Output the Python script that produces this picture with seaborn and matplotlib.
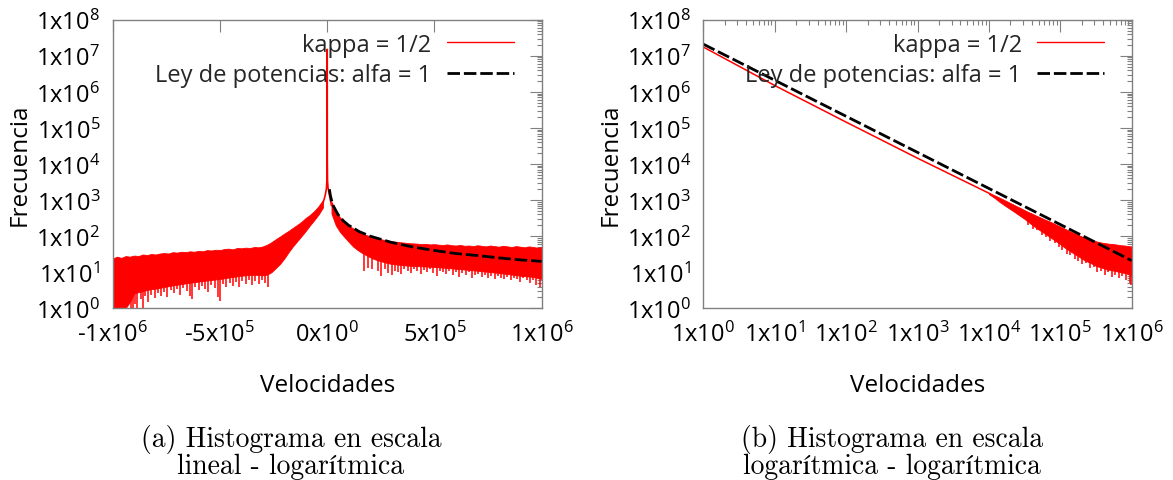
import numpy as np
import pandas as pd
import matplotlib
matplotlib.use('Agg')
import matplotlib.pyplot as plt
from matplotlib.lines import Line2D
from matplotlib.ticker import LogLocator, NullFormatter, NullLocator
import seaborn as sns

# ---------------- data ----------------
# (a) linear x: velocities in units of 1e5
vel_neg_e5 = [-10.0, -9.8, -9.6, -9.4, -9.2, -9.0, -8.8, -8.6, -8.4, -8.2,
              -8.0, -7.8, -7.6, -7.4, -7.2, -7.0, -6.8, -6.6, -6.4, -6.2,
              -6.0, -5.8, -5.6, -5.4, -5.2, -5.0, -4.8, -4.6, -4.4, -4.2,
              -4.0, -3.8, -3.6, -3.4, -3.2, -3.0, -2.8, -2.6, -2.4, -2.2,
              -2.0, -1.8, -1.6, -1.4, -1.2, -1.0, -0.8, -0.6, -0.4, -0.2]
freq_neg_upper = [24, 27, 25, 28, 27, 29, 28, 31, 30, 32,
                  31, 33, 34, 33, 36, 35, 37, 36, 38, 37,
                  39, 38, 41, 40, 42, 41, 44, 45, 43, 47,
                  46, 48, 47, 50, 49, 52, 58, 68, 82, 98,
                  118, 140, 170, 205, 250, 320, 390, 500, 680, 1000]
freq_neg_lower = [1, 1, 1, 1, 1.5, 2.6, 2.8, 3.0, 3.2, 3.4,
                  3.5, 3.7, 3.9, 4.1, 4.3, 4.5, 4.7, 4.9, 5.1, 5.3,
                  5.5, 5.7, 5.9, 6.1, 6.3, 6.5, 6.8, 7.1, 7.4, 7.7,
                  8.0, 8.2, 8.4, 8.5, 8.4, 8.2, 8.6, 10, 13, 17,
                  24, 36, 52, 72, 100, 140, 200, 280, 400, 620]
spike_neg_e5 = [-9.15, -9.05, -8.95, -8.85, -8.7, -8.6, -8.5, -8.35, -8.2, -8.05,
                -7.9, -7.75, -7.6, -7.45, -7.3, -7.15, -7.0, -6.85, -6.7, -6.55,
                -6.4, -6.3, -6.15, -6.0, -5.85, -5.7, -5.55, -5.4, -5.25, -5.1,
                -5.0, -4.85, -4.7, -4.55, -4.4, -4.25, -4.1, -3.95, -3.8, -3.65,
                -3.5, -3.35, -3.2, -3.05, -2.9, -2.75]
spike_neg_bottom = [1, 1, 1.3, 1, 1.8, 1, 2.2, 1.5, 2.4, 1.9,
                    2.6, 2.2, 2.9, 2.0, 3.2, 2.6, 3.4, 2.4, 3.6, 3.0,
                    2.2, 1.8, 3.8, 3.2, 4.2, 3.4, 2.8, 4.4, 3.6, 2.0,
                    1.6, 4.6, 3.8, 5.0, 4.2, 5.4, 4.0, 5.8, 4.6, 6.0,
                    4.4, 5.6, 4.8, 6.2, 5.0, 3.8]

vel_pos_e5 = [0.2, 0.4, 0.6, 0.8, 1.0, 1.2, 1.4, 1.6, 1.8, 2.0,
              2.2, 2.4, 2.6, 2.8, 3.0, 3.2, 3.4, 3.6, 3.8, 4.0,
              4.2, 4.4, 4.6, 4.8, 5.0, 5.2, 5.4, 5.6, 5.8, 6.0,
              6.2, 6.4, 6.6, 6.8, 7.0, 7.2, 7.4, 7.6, 7.8, 8.0,
              8.2, 8.4, 8.6, 8.8, 9.0, 9.2, 9.4, 9.6, 9.8, 10.0]
freq_pos_upper = [900, 500, 330, 250, 200, 165, 140, 120, 108, 100,
                  92, 85, 80, 76, 72, 70, 68, 66, 64, 63,
                  62, 60, 61, 59, 60, 58, 57, 59, 56, 55,
                  57, 54, 55, 53, 56, 54, 52, 55, 53, 51,
                  54, 52, 50, 53, 51, 49, 52, 50, 48, 50]
freq_pos_lower = [420, 200, 130, 95, 70, 52, 42, 35, 30, 26,
                  23, 21, 19.5, 18, 17, 16.5, 16, 15.5, 15.2, 15,
                  14.8, 14.6, 14.4, 14.2, 14, 13.7, 13.4, 13.1, 12.8, 12.5,
                  12.2, 11.9, 11.6, 11.3, 11, 10.7, 10.4, 10.1, 9.8, 9.5,
                  9.2, 8.9, 8.6, 8.3, 8.0, 7.8, 7.6, 7.4, 7.0, 6.5]
spike_pos_e5 = [1.7, 1.9, 2.1, 2.35, 2.5, 2.7, 2.85, 3.0, 3.15, 3.3,
                3.45, 3.6, 3.75, 3.9, 4.05, 4.2, 4.35, 4.5, 4.65, 4.8,
                4.95, 5.1, 5.25, 5.4, 5.55, 5.7, 5.85, 6.0, 6.15, 6.3,
                6.45, 6.6, 6.75, 6.9, 7.05, 7.2, 7.35, 7.5, 7.65, 7.8,
                7.95, 8.1, 8.25, 8.4, 8.55, 8.7, 8.85, 9.0, 9.15, 9.3,
                9.45, 9.6, 9.75, 9.9]
spike_pos_bottom = [11, 13, 12, 11, 8, 12, 9.5, 8.5, 11, 10,
                    9, 12, 10.5, 9.5, 12, 10.5, 9, 11.5, 10, 12,
                    9.5, 8, 11, 10, 9, 10.5, 8.5, 10, 7.5, 9.5,
                    8.5, 10, 7, 8.5, 9, 7.5, 8.5, 7, 8, 6.5,
                    8, 7, 6.5, 7.5, 6, 7, 6.5, 5.5, 7, 6,
                    5, 6, 4.5, 3.8]

vel_center_e5 = [-0.2, -0.1, -0.04, -0.015, -0.005, 0.0, 0.005, 0.015, 0.04, 0.1, 0.2]
freq_center = [800, 1300, 2000, 3500, 15000, 1.5e7, 15000, 3500, 2200, 1400, 700]

vel_fit_a_e5 = [0.1, 0.15, 0.2, 0.3, 0.5, 0.75, 1.0, 1.5, 2.0, 3.0, 4.0, 5.0, 6.0, 7.0, 8.0, 9.0, 10.0]
freq_fit_a = [2000, 1333, 1000, 667, 400, 267, 200, 133, 100, 67, 50, 40, 33, 29, 25, 22, 20]

# (b) log-log
vel_line_b = [1, 10, 100, 1000, 10000]
freq_line_b = [1.75e7, 1.5e6, 1.45e5, 1.45e4, 1.55e3]
vel_band_b_exp = [4.00, 4.05, 4.10, 4.15, 4.20, 4.25, 4.30, 4.35, 4.40, 4.45,
                  4.50, 4.55, 4.60, 4.65, 4.70, 4.75, 4.80, 4.85, 4.90, 4.95,
                  5.00, 5.05, 5.10, 5.15, 5.20, 5.25, 5.30, 5.35, 5.40, 5.45,
                  5.50, 5.55, 5.60, 5.65, 5.70, 5.75, 5.80, 5.85, 5.90, 5.95, 6.00]
freq_band_b_upper = [1620, 1440, 1300, 1160, 1040, 930, 830, 740, 660, 590,
                     525, 470, 425, 380, 345, 310, 280, 255, 230, 205,
                     185, 165, 148, 132, 120, 108, 98, 90, 82, 77,
                     72, 68, 65, 63, 61, 60, 58, 56, 55, 53, 52]
freq_band_b_lower = [1460, 1260, 1070, 890, 760, 650, 560, 480, 410, 350,
                     300, 250, 210, 178, 152, 130, 112, 96, 82, 70,
                     60, 50, 43, 37, 32, 28, 24, 21, 19, 17,
                     15, 14, 13, 12, 11.5, 11, 10.5, 10, 9.5, 9, 8]
spike_b_exp = [4.55, 4.62, 4.68, 4.75, 4.80, 4.86, 4.92, 4.98, 5.03, 5.09,
               5.14, 5.20, 5.25, 5.31, 5.36, 5.42, 5.47, 5.52, 5.57, 5.62,
               5.67, 5.72, 5.77, 5.82, 5.87, 5.92, 5.97, 5.995]
spike_b_bottom = [200, 160, 150, 110, 95, 75, 65, 50, 42, 32,
                  30, 24, 20, 17, 18, 13, 14, 10, 11, 8.5,
                  10, 7.5, 8.5, 7, 8, 6, 5, 4.5]
vel_fit_b = [1, 10, 100, 1000, 10000, 100000, 1000000]
freq_fit_b = [2.1e7, 2.1e6, 2.1e5, 2.1e4, 2.1e3, 210, 21]

# ticks and texts
y_ticks = [1, 10, 100, 1e3, 1e4, 1e5, 1e6, 1e7, 1e8]
y_tick_labels = ['1x10$^{0}$', '1x10$^{1}$', '1x10$^{2}$', '1x10$^{3}$', '1x10$^{4}$',
                 '1x10$^{5}$', '1x10$^{6}$', '1x10$^{7}$', '1x10$^{8}$']
xa_ticks = [-1e6, -5e5, 0, 5e5, 1e6]
xa_tick_labels = ['-1x10$^{6}$', '-5x10$^{5}$', '0x10$^{0}$', '5x10$^{5}$', '1x10$^{6}$']
xb_ticks = [1, 10, 100, 1e3, 1e4, 1e5, 1e6]
xb_tick_labels = ['1x10$^{0}$', '1x10$^{1}$', '1x10$^{2}$', '1x10$^{3}$', '1x10$^{4}$',
                  '1x10$^{5}$', '1x10$^{6}$']
legend_labels = ['kappa = 1/2', 'Ley de potencias: alfa = 1']
caption_a = ['(a) Histograma en escala', 'lineal - logarítmica']
caption_b = ['(b) Histograma en escala', 'logarítmica - logarítmica']

# ---------------- style ----------------
sns.set_theme(style='white')
plt.rcParams['font.family'] = ['Open Sans', 'DejaVu Sans']
plt.rcParams['mathtext.fontset'] = 'custom'
plt.rcParams['mathtext.rm'] = 'Open Sans'
plt.rcParams['mathtext.it'] = 'Open Sans'
plt.rcParams['mathtext.default'] = 'regular'

RED = '#ff0000'
GRAY = '#808080'
FS = 17
W, H = 1173, 481

fig = plt.figure(figsize=(W / 100, H / 100), dpi=100)
fig.patch.set_facecolor('white')
axA = fig.add_axes([112.7 / W, 1 - 309.3 / H, 429 / W, 288.6 / H])
axB = fig.add_axes([703.3 / W, 1 - 309.3 / H, 428.4 / W, 288.6 / H])


def style(ax):
    ax.set_facecolor('white')
    for s in ax.spines.values():
        s.set_visible(True)
        s.set_color(GRAY)
        s.set_linewidth(1.0)
        s.set_zorder(5)
    ax.grid(False)
    ax.tick_params(which='both', direction='in', top=True, right=True,
                   color=GRAY, width=0.8, labelsize=FS, labelcolor='black')
    ax.tick_params(which='major', length=8.6)
    ax.tick_params(which='minor', length=3.8)
    ax.tick_params(axis='y', pad=9)
    ax.tick_params(axis='x', pad=9.5)
    ax.set_yscale('log')
    ax.set_ylim(1, 1e8)
    ax.set_yticks(y_ticks)
    ax.set_yticklabels(y_tick_labels)
    ax.yaxis.set_minor_locator(LogLocator(base=10, subs=np.arange(2, 10), numticks=100))
    ax.yaxis.set_minor_formatter(NullFormatter())


# ---- panel (a)
style(axA)
axA.set_xlim(-1e6, 1e6)
vneg = np.array(vel_neg_e5) * 1e5
vpos = np.array(vel_pos_e5) * 1e5
axA.fill_between(vneg, freq_neg_lower, freq_neg_upper, color=RED, lw=0.6, edgecolor=RED, zorder=2)
axA.fill_between(vpos, freq_pos_lower, freq_pos_upper, color=RED, lw=0.6, edgecolor=RED, zorder=2)
sn = np.array(spike_neg_e5) * 1e5
sp = np.array(spike_pos_e5) * 1e5
axA.vlines(sn, spike_neg_bottom, np.interp(sn, vneg, freq_neg_lower) * 1.3, color=RED, lw=1.1, zorder=2)
axA.vlines(sp, spike_pos_bottom, np.interp(sp, vpos, freq_pos_lower) * 1.3, color=RED, lw=1.1, zorder=2)
dfc = pd.DataFrame({'v': np.array(vel_center_e5) * 1e5, 'f': freq_center})
sns.lineplot(data=dfc, x='v', y='f', ax=axA, color=RED, lw=1.2, estimator=None, zorder=2)
dff = pd.DataFrame({'v': np.array(vel_fit_a_e5) * 1e5, 'f': freq_fit_a})
sns.lineplot(data=dff, x='v', y='f', ax=axA, color='black', lw=2.0, estimator=None, zorder=3)
axA.lines[-1].set_dashes((4.5, 1.4))
axA.set_xticks(xa_ticks)
axA.set_xticklabels(xa_tick_labels)
axA.xaxis.set_minor_locator(NullLocator())

# ---- panel (b)
style(axB)
axB.set_xscale('log')
axB.set_xlim(1, 1e6)
vb = 10 ** np.array(vel_band_b_exp)
axB.fill_between(vb, freq_band_b_lower, freq_band_b_upper, color=RED, lw=0.6, edgecolor=RED, zorder=2)
sb = np.array(spike_b_exp)
axB.vlines(10 ** sb, spike_b_bottom, np.interp(sb, vel_band_b_exp, freq_band_b_lower) * 1.3,
           color=RED, lw=1.1, zorder=2)
dfl = pd.DataFrame({'v': vel_line_b, 'f': freq_line_b})
sns.lineplot(data=dfl, x='v', y='f', ax=axB, color=RED, lw=1.1, estimator=None, zorder=2)
dfb = pd.DataFrame({'v': vel_fit_b, 'f': freq_fit_b})
sns.lineplot(data=dfb, x='v', y='f', ax=axB, color='black', lw=2.0, estimator=None, zorder=3)
axB.lines[-1].set_dashes((4.5, 1.4))
axB.set_xticks(xb_ticks)
axB.set_xticklabels(xb_tick_labels)
axB.xaxis.set_minor_locator(LogLocator(base=10, subs=np.arange(2, 10), numticks=100))
axB.xaxis.set_minor_formatter(NullFormatter())

for ax in (axA, axB):
    ax.set_xlabel('Velocidades', fontsize=FS + 0.5, color='black')
    ax.set_ylabel('Frecuencia', fontsize=FS + 0.5, color='black')
    ax.xaxis.set_label_coords(0.5, -0.225)
    ax.yaxis.set_label_coords(-0.188, 0.5)
    handles = [Line2D([], [], color=RED, lw=1.0),
               Line2D([], [], color='black', lw=2.0, dashes=(4.5, 1.4))]
    ax.legend(handles, legend_labels, loc='upper right', bbox_to_anchor=(0.936, 0.955),
              frameon=False, markerfirst=False, fontsize=FS, handlelength=2.86,
              handletextpad=0.64, labelspacing=0.27, borderpad=0, borderaxespad=0)

cap_font = ['cmr10', 'STIXGeneral', 'DejaVu Serif']
for cx, lines in ((291, caption_a), (892, caption_b)):
    fig.text(cx / W, 1 - 447 / H, lines[0], ha='center', va='baseline',
             fontsize=19.9, family=cap_font, color='black')
    fig.text(cx / W, 1 - 474.5 / H, lines[1], ha='center', va='baseline',
             fontsize=19.9, family=cap_font, color='black')

fig.savefig('out.png', dpi=100, facecolor='white')
